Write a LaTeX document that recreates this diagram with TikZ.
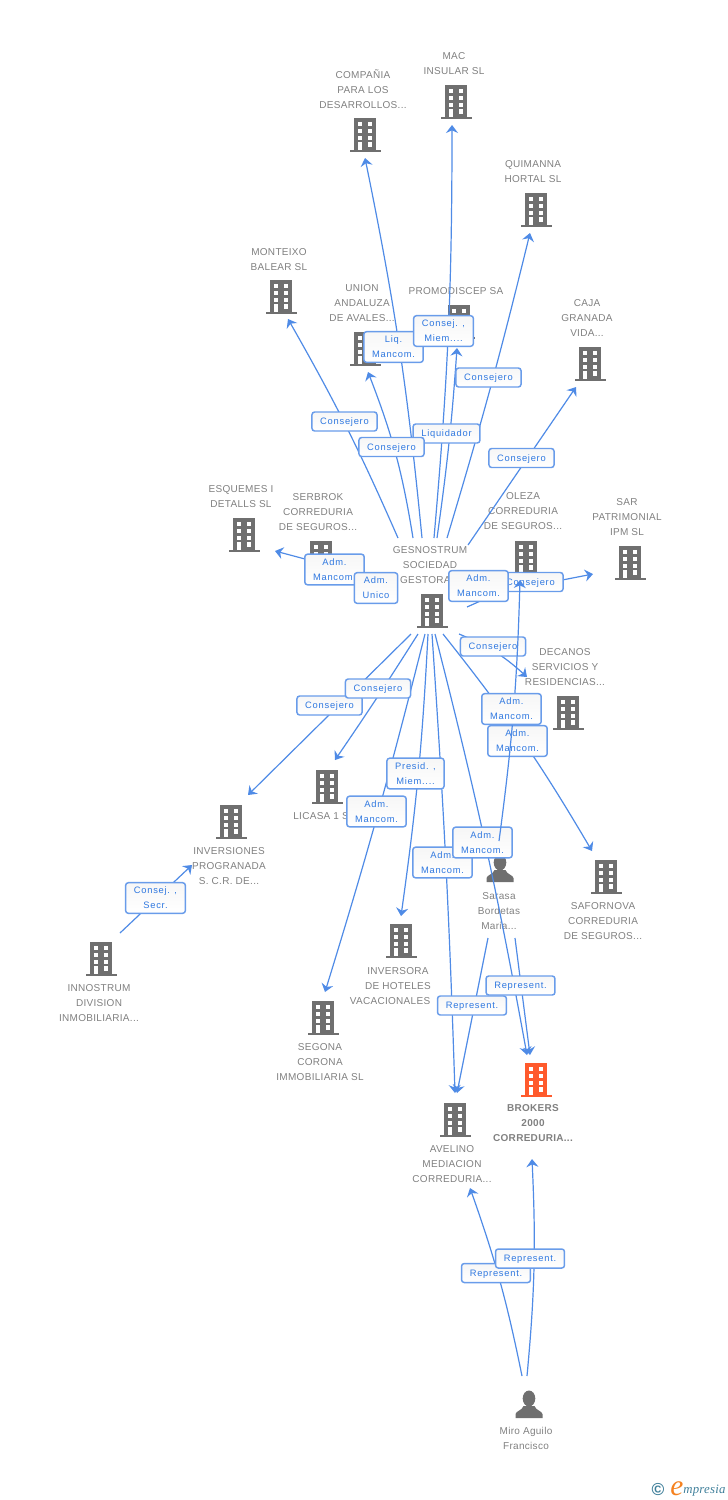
\documentclass[tikz,border=0pt]{standalone}
\usepackage{fontspec}
\setmainfont{Liberation Sans}[LetterSpace=3]
\newfontfamily\tagfont{Liberation Sans}[LetterSpace=8]
\newfontfamily\logofont{Liberation Serif}[LetterSpace=2]
\usetikzlibrary{arrows.meta}
\definecolor{ColorIcon}{HTML}{6F6F6F}
\definecolor{ColorMain}{HTML}{FF5A2C}
\definecolor{ColorText}{HTML}{808080}
\definecolor{ColorLink}{HTML}{4F8BE6}
\definecolor{ColorTag}{HTML}{2F78E0}
\definecolor{ColorLogo}{HTML}{3F7F9A}
\definecolor{ColorE}{HTML}{F58220}
\tikzset{
    caption/.style={font=\fontsize{7.5}{11.25}\selectfont, text=ColorText, align=center, inner sep=0pt},
    link/.style={draw=ColorLink, line width=0.9pt, -{Stealth[length=6pt,width=9pt,inset=2pt]}},
    tagbox/.style={draw=ColorLink!85!white, line width=1.1pt, rounded corners=2pt, top color=ColorIcon!6!white, bottom color=white,
        font=\tagfont\fontsize{7}{11.25}\selectfont, text=ColorTag, align=center, inner xsep=6.2pt, inner ysep=3.3pt, minimum height=14.25pt, text depth=-0.3pt},
    building/.style={minimum width=24pt, minimum height=26pt, inner sep=0pt, path picture={
        \begin{scope}[shift={(path picture bounding box.center)}]
            \fill[#1] (-11,-17) rectangle (11,14.5);
            \fill[#1] (-15.5,14.5) rectangle (15.5,17);
            \foreach \wy/\wh in {-13/4.3,-6/4,0.7/4.3,7/5}{
                \fill[white] (2.7,\wy) rectangle ++(4.6,\wh);
            }
            \foreach \wy/\wh in {-13/4.3,-6/4,0.7/4.3,7/7.5}{
                \fill[white] (-7.3,\wy) rectangle ++(4.6,\wh);
            }
        \end{scope}}},
    person/.style={minimum width=24pt, minimum height=26pt, inner sep=0pt, path picture={
        \begin{scope}[shift={(path picture bounding box.center)}]
            \fill[ColorIcon] (0,-5.5) ellipse (6.3 and 8);
            \fill[ColorIcon] (-13.5,14) -- (-13.5,10) .. controls (-13,7) and (-7,6.5) .. (-5.5,2) -- (5.5,2) .. controls (7,6.5) and (13,7) .. (13.5,10) -- (13.5,14) -- cycle;
        \end{scope}}},
}
\begin{document}
\begin{tikzpicture}[x=0.75pt,y=-0.75pt]
    \useasboundingbox (0,0) rectangle (728,1500);
    %Icons
    \node[building=ColorIcon] (iconMac) at (456,102) {};
    \node[building=ColorIcon] (iconCompania) at (365,135) {};
    \node[building=ColorIcon] (iconQuimanna) at (536,210) {};
    \node[building=ColorIcon] (iconMonteixo) at (281,297) {};
    \node[building=ColorIcon] (iconUnion) at (365,349) {};
    \node[building=ColorIcon] (iconPromo) at (459,322) {};
    \node[building=ColorIcon] (iconCaja) at (590,364) {};
    \node[building=ColorIcon] (iconEsquemes) at (244,535) {};
    \node[building=ColorIcon] (iconSerbrok) at (321,558) {};
    \node[building=ColorIcon] (iconOleza) at (526,558) {};
    \node[building=ColorIcon] (iconSar) at (630,563) {};
    \node[building=ColorIcon] (iconGes) at (432,611) {};
    \node[building=ColorIcon] (iconDecanos) at (568,713) {};
    \node[building=ColorIcon] (iconLicasa) at (327,787) {};
    \node[building=ColorIcon] (iconInver) at (231,822) {};
    \node[building=ColorIcon] (iconSafor) at (606,877) {};
    \node[building=ColorIcon] (iconInversora) at (401,941) {};
    \node[building=ColorIcon] (iconInnostrum) at (101,959) {};
    \node[building=ColorIcon] (iconSegona) at (323,1018) {};
    \node[building=ColorMain] (iconBrokers) at (536,1080) {};
    \node[building=ColorIcon] (iconAvelino) at (455,1120) {};
    \node[person] (iconSarasa) at (500,868) {};
    \node[person] (iconMiro) at (529,1404) {};
    %Names
    \node[caption] (nameMac) at (454,63.5) {MAC\\INSULAR SL};
    \node[caption] (nameCompania) at (363,89) {COMPAÑIA\\PARA LOS\\DESARROLLOS...};
    \node[caption] (nameQuimanna) at (533,171.5) {QUIMANNA\\HORTAL SL};
    \node[caption] (nameMonteixo) at (279,259.5) {MONTEIXO\\BALEAR SL};
    \node[caption] (nameUnion) at (362,303) {UNION\\ANDALUZA\\DE AVALES...};
    \node[caption] (namePromo) at (456,291) {PROMODISCEP SA};
    \node[caption] (nameCaja) at (587,318) {CAJA\\GRANADA\\VIDA...};
    \node[caption] (nameEsquemes) at (241,496.5) {ESQUEMES I\\DETALLS SL};
    \node[caption] (nameSerbrok) at (318,512) {SERBROK\\CORREDURIA\\DE SEGUROS...};
    \node[caption] (nameOleza) at (523,511) {OLEZA\\CORREDURIA\\DE SEGUROS...};
    \node[caption] (nameSar) at (627,517) {SAR\\PATRIMONIAL\\IPM SL};
    \node[caption] (nameGes) at (430,565) {GESNOSTRUM\\SOCIEDAD\\GESTORA...};
    \node[caption] (nameDecanos) at (565,667) {DECANOS\\SERVICIOS Y\\RESIDENCIAS...};
    \node[caption] (nameLicasa) at (324,816) {LICASA 1 SL};
    \node[caption] (nameInver) at (229,866) {INVERSIONES\\PROGRANADA\\S. C.R. DE...};
    \node[caption] (nameSarasa) at (499,911) {Sarasa\\Bordetas\\Maria...};
    \node[caption] (nameSafor) at (603,921) {SAFORNOVA\\CORREDURIA\\DE SEGUROS...};
    \node[caption] (nameInversora) at (398,986) {INVERSORA\\DE HOTELES\\VACACIONALES\hspace*{12pt}};
    \node[caption] (nameInnostrum) at (99,1003) {INNOSTRUM\\DIVISION\\INMOBILIARIA...};
    \node[caption] (nameSegona) at (320,1062) {SEGONA\\CORONA\\IMMOBILIARIA SL};
    \node[caption, font=\bfseries\fontsize{7.5}{11.25}\selectfont] (nameBrokers) at (533,1123) {BROKERS\\2000\\CORREDURIA...};
    \node[caption] (nameAvelino) at (452,1164) {AVELINO\\MEDIACION\\CORREDURIA...};
    \node[caption] (nameMiro) at (526,1438.5) {Miro Aguilo\\Francisco};
    %Ends of the links
    \coordinate (gesMonteixo) at (398,538);
    \coordinate (gesUnion) at (413,538);
    \coordinate (gesCompania) at (422,538);
    \coordinate (gesMac) at (434,538);
    \coordinate (gesPromo) at (437,538);
    \coordinate (gesQuimanna) at (447,538);
    \coordinate (gesCaja) at (468,545);
    \coordinate (gesEsquemes) at (350,571);
    \coordinate (gesSerbrok) at (372,587);
    \coordinate (gesOleza) at (467,607);
    \coordinate (gesSar) at (470,598);
    \coordinate (gesDecanos) at (459,634);
    \coordinate (gesSafor) at (443,634);
    \coordinate (gesInver) at (411,634);
    \coordinate (gesLicasa) at (418,634);
    \coordinate (gesSegona) at (425,634);
    \coordinate (gesInversora) at (428,634);
    \coordinate (gesAvelino) at (432,634);
    \coordinate (gesBrokers) at (435,634);
    \coordinate (toMonteixo) at (288,319);
    \coordinate (toUnion) at (368,372);
    \coordinate (toCompania) at (365,158);
    \coordinate (toMac) at (452,125);
    \coordinate (toPromo) at (457,348);
    \coordinate (toQuimanna) at (530,233);
    \coordinate (toCaja) at (576,387);
    \coordinate (toEsquemes) at (275,551);
    \coordinate (toSerbrok) at (335,575);
    \coordinate (toOleza) at (505,590);
    \coordinate (toSar) at (593,574);
    \coordinate (toDecanos) at (527,677);
    \coordinate (toSafor) at (592,851);
    \coordinate (toInver) at (248,795);
    \coordinate (toLicasa) at (335,760);
    \coordinate (toSegona) at (325,992);
    \coordinate (toInversora) at (401,916);
    \coordinate (toAvelino) at (455,1093);
    \coordinate (toBrokers) at (527,1055);
    \coordinate (sarasaUp) at (499,841);
    \coordinate (sarasaLeft) at (488,938);
    \coordinate (sarasaRight) at (515,938);
    \coordinate (toOlezaTop) at (520,580);
    \coordinate (toAvelinoB) at (457,1093);
    \coordinate (toBrokersB) at (530,1055);
    \coordinate (innostrumOut) at (120,933);
    \coordinate (toInverB) at (192,865);
    \coordinate (miroLeft) at (522,1376);
    \coordinate (miroRight) at (527,1376);
    \coordinate (toAvelinoC) at (470,1188);
    \coordinate (toBrokersC) at (532,1159);
    %Links
    \draw[link] (gesMonteixo) to[bend right=3] (toMonteixo);
    \draw[link] (gesUnion) to[bend right=6] (toUnion);
    \draw[link] (gesCompania) to[bend right=3] (toCompania);
    \draw[link] (gesMac) to[bend right=2.5] (toMac);
    \draw[link] (gesPromo) to[bend right=2] (toPromo);
    \draw[link] (gesQuimanna) to[bend right=1.5] (toQuimanna);
    \draw[link] (gesCaja) -- (toCaja);
    \draw[link] (gesEsquemes) -- (toEsquemes);
    \draw[link] (gesSerbrok) -- (toSerbrok);
    \draw[link] (gesOleza) -- (toOleza);
    \draw[link] (gesSar) -- (toSar);
    \draw[link] (gesDecanos) to[bend left=10] (toDecanos);
    \draw[link] (gesSafor) to[bend left=4] (toSafor);
    \draw[link] (gesInver) -- (toInver);
    \draw[link] (gesLicasa) to[bend left=1] (toLicasa);
    \draw[link] (gesSegona) to[bend left=1.5] (toSegona);
    \draw[link] (gesInversora) to[bend left=2.5] (toInversora);
    \draw[link] (gesAvelino) to[bend left=1] (toAvelino);
    \draw[link] (gesBrokers) to[bend left=2] (toBrokers);
    \draw[link] (sarasaLeft) -- (toAvelinoB);
    \draw[link] (sarasaRight) -- (toBrokersB);
    \draw[link] (innostrumOut) -- (toInverB);
    \draw[link] (miroLeft) to[bend right=4] (toAvelinoC);
    \draw[link] (miroRight) to[bend right=4] (toBrokersC);
    %Tags
    \node[tagbox] (tagLiquidador) at (446.5,433.5) {Liquidador};
    \node[tagbox] (tagMonteixo) at (344.5,421.5) {Consejero};
    \node[tagbox] (tagUnion) at (391.5,447) {Consejero};
    \node[tagbox] (tagCompania) at (393.5,347) {Liq.\\Mancom.};
    \node[tagbox] (tagMac) at (443.5,331) {Consej. ,\\Miem....};
    \node[tagbox] (tagQuimanna) at (488.5,377.5) {Consejero};
    \node[tagbox] (tagCaja) at (521.5,458) {Consejero};
    \node[tagbox] (tagEsquemes) at (334.5,569.5) {Adm.\\Mancom.};
    \node[tagbox] (tagSerbrok) at (376,588) {Adm.\\Unico};
    \node[tagbox] (tagSar) at (530.5,582) {Consejero};
    \node[tagbox] (tagOleza) at (478.5,586) {Adm.\\Mancom.};
    \node[tagbox] (tagDecanos) at (493,646.5) {Consejero};
    \node[tagbox] (tagInver) at (329.5,705.5) {Consejero};
    \node[tagbox] (tagLicasa) at (378,688.5) {Consejero};
    \node[tagbox] (tagSafor) at (517.5,741) {Adm.\\Mancom.};
    \node[tagbox] (tagInversora) at (415.5,773.5) {Presid. ,\\Miem....};
    \node[tagbox] (tagSegona) at (376.5,811.5) {Adm.\\Mancom.};
    \node[tagbox] (tagAvelino) at (442.5,862.5) {Adm.\\Mancom.};
    \node[tagbox] (tagSarasa) at (482.5,842.5) {Adm.\\Mancom.};
    \node[tagbox] (tagInnostrum) at (155.5,898) {Consej. ,\\Secr.};
    \node[tagbox] (tagAvelinoB) at (472,1005.5) {Represent.};
    \node[tagbox] (tagBrokersB) at (520.5,985.5) {Represent.};
    \node[tagbox] (tagAvelinoC) at (496,1273) {Represent.};
    \node[tagbox] (tagBrokersC) at (530,1258.5) {Represent.};
    %Link over the tags
    \draw[link] (sarasaUp) to[bend right=3] (toOlezaTop);
    \node[tagbox] (tagSaforB) at (511.5,709) {Adm.\\Mancom.};
    %Logo
    \node[caption, font=\bfseries\fontsize{13}{13}\selectfont, text=ColorLogo] (logoC) at (658,1489) {©};
    \node[anchor=base west, inner sep=0pt, font=\logofont\itshape\fontsize{22}{22}\selectfont, text=ColorE] (logoE) at (670,1495) {e};
    \node[anchor=base west, inner sep=0pt, font=\logofont\itshape\fontsize{9.6}{10}\selectfont, text=ColorLogo] (logoName) at (683,1493) {mpresia};
\end{tikzpicture}
\end{document}
